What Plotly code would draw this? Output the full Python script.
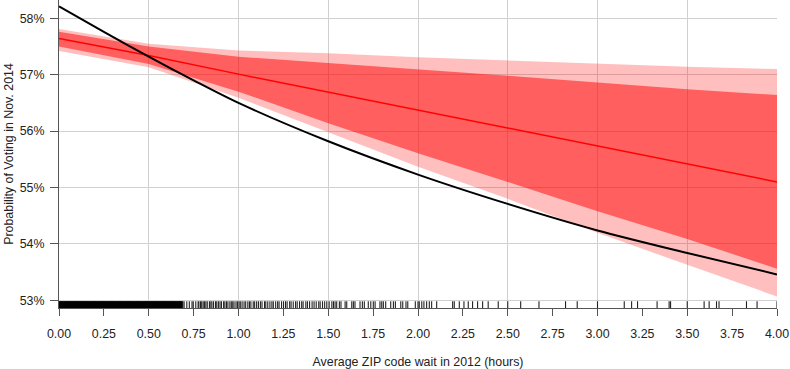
import plotly.graph_objects as go

# ---------------- data ----------------
band_x = [0, 0.5, 1.0, 1.5, 2.0, 2.5, 3.0, 3.5, 4.0]
pred_mean = [57.64, 57.34, 57.01, 56.69, 56.37, 56.05, 55.73, 55.42, 55.10]
ci95_hi = [57.81, 57.55, 57.43, 57.38, 57.31, 57.25, 57.20, 57.14, 57.10]
ci68_hi = [57.76, 57.50, 57.32, 57.21, 57.10, 56.98, 56.86, 56.74, 56.64]
ci68_lo = [57.50, 57.19, 56.70, 56.14, 55.61, 55.10, 54.58, 54.09, 53.56]
ci95_lo = [57.42, 57.13, 56.59, 55.98, 55.37, 54.80, 54.20, 53.63, 53.07]

curve_x = [0, 0.25, 0.5, 0.75, 1.0, 1.5, 2.0, 2.5, 3.0, 3.5, 4.0]
curve_y = [58.21, 57.76, 57.32, 56.90, 56.50, 55.82, 55.23, 54.71, 54.24, 53.84, 53.46]

# observed ZIP-code wait times (rug)
rug_dense = [
    0.000, 0.005, 0.010, 0.015, 0.020, 0.025, 0.030, 0.035, 0.040, 0.045,
    0.050, 0.055, 0.060, 0.065, 0.070, 0.075, 0.080, 0.085, 0.090, 0.095,
    0.100, 0.105, 0.110, 0.115, 0.120, 0.125, 0.130, 0.135, 0.140, 0.145,
    0.150, 0.155, 0.160, 0.165, 0.170, 0.175, 0.180, 0.185, 0.190, 0.195,
    0.200, 0.205, 0.210, 0.215, 0.220, 0.225, 0.230, 0.235, 0.240, 0.245,
    0.250, 0.255, 0.260, 0.265, 0.270, 0.275, 0.280, 0.285, 0.290, 0.295,
    0.300, 0.305, 0.310, 0.315, 0.320, 0.325, 0.330, 0.335, 0.340, 0.345,
    0.350, 0.355, 0.360, 0.365, 0.370, 0.375, 0.380, 0.385, 0.390, 0.395,
    0.400, 0.405, 0.410, 0.415, 0.420, 0.425, 0.430, 0.435, 0.440, 0.445,
    0.450, 0.455, 0.460, 0.465, 0.470, 0.475, 0.480, 0.485, 0.490, 0.495,
    0.500, 0.505, 0.510, 0.515, 0.520, 0.525, 0.530, 0.535, 0.540, 0.545,
    0.550, 0.555, 0.560, 0.565, 0.570, 0.575, 0.580, 0.585, 0.590, 0.595,
    0.600, 0.605, 0.610, 0.615, 0.620, 0.625, 0.630, 0.635, 0.640, 0.645,
    0.650, 0.655, 0.660, 0.665, 0.670, 0.675, 0.680, 0.685,
]
rug_sparse = [
    0.690, 0.697, 0.712, 0.726, 0.741, 0.748, 0.762, 0.775, 0.779, 0.788,
    0.795, 0.803, 0.810, 0.818, 0.826, 0.838, 0.846, 0.852, 0.861, 0.872,
    0.879, 0.888, 0.897, 0.905, 0.917, 0.924, 0.933, 0.941, 0.952, 0.960,
    0.968, 0.975, 0.986, 0.994, 1.003, 1.010, 1.020, 1.031, 1.040, 1.052,
    1.061, 1.069, 1.082, 1.090, 1.101, 1.111, 1.122, 1.131, 1.145, 1.152,
    1.163, 1.175, 1.186, 1.194, 1.207, 1.218, 1.226, 1.240, 1.251, 1.262,
    1.271, 1.285, 1.293, 1.305, 1.318, 1.327, 1.340, 1.352, 1.360, 1.375,
    1.384, 1.396, 1.410, 1.421, 1.433, 1.447, 1.455, 1.468, 1.480, 1.492,
    1.505, 1.520, 1.529, 1.538, 1.547, 1.562, 1.571, 1.594, 1.603, 1.631,
    1.640, 1.649, 1.677, 1.690, 1.701, 1.723, 1.737, 1.751, 1.761, 1.788,
    1.798, 1.807, 1.820, 1.848, 1.863, 1.874, 1.904, 1.915, 1.933, 1.943,
    1.985, 2.000, 2.007, 2.021, 2.033, 2.048, 2.063, 2.076, 2.104, 2.193,
    2.202, 2.230, 2.256, 2.280, 2.304, 2.332, 2.360, 2.391, 2.447, 2.500,
    2.572, 2.674, 2.822, 2.887, 3.000, 3.149, 3.190, 3.223, 3.332, 3.399,
    3.407, 3.500, 3.594, 3.622, 3.663, 3.677, 3.830, 3.889, 4.000,
]

y_tick_vals = [53, 54, 55, 56, 57, 58]
y_tick_text = ["53%", "54%", "55%", "56%", "57%", "58%"]
x_label = "Average ZIP code wait in 2012 (hours)"
y_label = "Probability of Voting in Nov. 2014"

# ---------------- figure ----------------
Y_MIN, Y_MAX = 52.865, 58.324
RUG_TOP, RUG_BOT = 52.985, Y_MIN

fig = go.Figure()

fig.add_trace(go.Scatter(
    x=band_x + band_x[::-1], y=ci95_hi + ci95_lo[::-1],
    fill="toself", fillcolor="rgba(255,0,0,0.25)", mode="lines",
    line=dict(width=0), hoverinfo="skip", showlegend=False))
fig.add_trace(go.Scatter(
    x=band_x + band_x[::-1], y=ci68_hi + ci68_lo[::-1],
    fill="toself", fillcolor="rgba(255,0,0,0.5)", mode="lines",
    line=dict(width=0), hoverinfo="skip", showlegend=False))
fig.add_trace(go.Scatter(
    x=band_x, y=pred_mean, mode="lines",
    line=dict(color="#ff0000", width=1.5), showlegend=False))
fig.add_trace(go.Scatter(
    x=curve_x, y=curve_y, mode="lines", line_shape="spline",
    line=dict(color="#000000", width=2, smoothing=0.8), showlegend=False))


def rug_xy(values):
    xs, ys = [], []
    for v in values:
        xs += [v, v, None]
        ys += [RUG_BOT, RUG_TOP, None]
    return xs, ys


dx, dy = rug_xy(rug_dense)
fig.add_trace(go.Scatter(x=dx, y=dy, mode="lines",
                         line=dict(color="#000000", width=2),
                         hoverinfo="skip", showlegend=False))
sx, sy = rug_xy(rug_sparse)
fig.add_trace(go.Scatter(x=sx, y=sy, mode="lines",
                         line=dict(color="#222222", width=1.1),
                         hoverinfo="skip", showlegend=False))

# invisible trace to carry the overlay grid axis
fig.add_trace(go.Scatter(x=[0, 4], y=[Y_MIN, Y_MIN], xaxis="x2",
                         mode="markers", marker=dict(opacity=0),
                         hoverinfo="skip", showlegend=False))

font_family = "Liberation Sans, Arial, sans-serif"
fig.update_layout(
    width=790, height=369,
    margin=dict(l=59, r=13, t=0, b=61),
    paper_bgcolor="white", plot_bgcolor="white",
    font=dict(family=font_family, size=12.4, color="#222222"),
    xaxis=dict(
        range=[0, 4], tick0=0, dtick=0.25, tickformat=".2f",
        showgrid=False, zeroline=False, automargin=False,
        showline=True, linecolor="#555555", linewidth=1,
        ticks="outside", ticklen=7, tickcolor="#555555", tickwidth=1,
        ticklabelstandoff=7,
        title=dict(text=x_label, standoff=19, font=dict(size=12.4)),
    ),
    xaxis2=dict(
        range=[0, 4], overlaying="x", tick0=0, dtick=0.5,
        showgrid=True, gridcolor="#d0d0d0", gridwidth=1,
        showticklabels=False, ticks="", zeroline=False, showline=False,
    ),
    yaxis=dict(
        range=[Y_MIN, Y_MAX], tickvals=y_tick_vals, ticktext=y_tick_text,
        showgrid=True, gridcolor="#d0d0d0", gridwidth=1, zeroline=False,
        automargin=False,
        showline=True, linecolor="#555555", linewidth=1,
        ticks="outside", ticklen=8, tickcolor="#555555", tickwidth=1,
        ticklabelstandoff=3,
        title=dict(text=y_label, standoff=3, font=dict(size=12.4)),
    ),
)

fig.write_html(
    "out.html",
    config={"displayModeBar": False},
    post_script="document.body.style.margin='0';document.body.style.overflow='hidden';",
)
